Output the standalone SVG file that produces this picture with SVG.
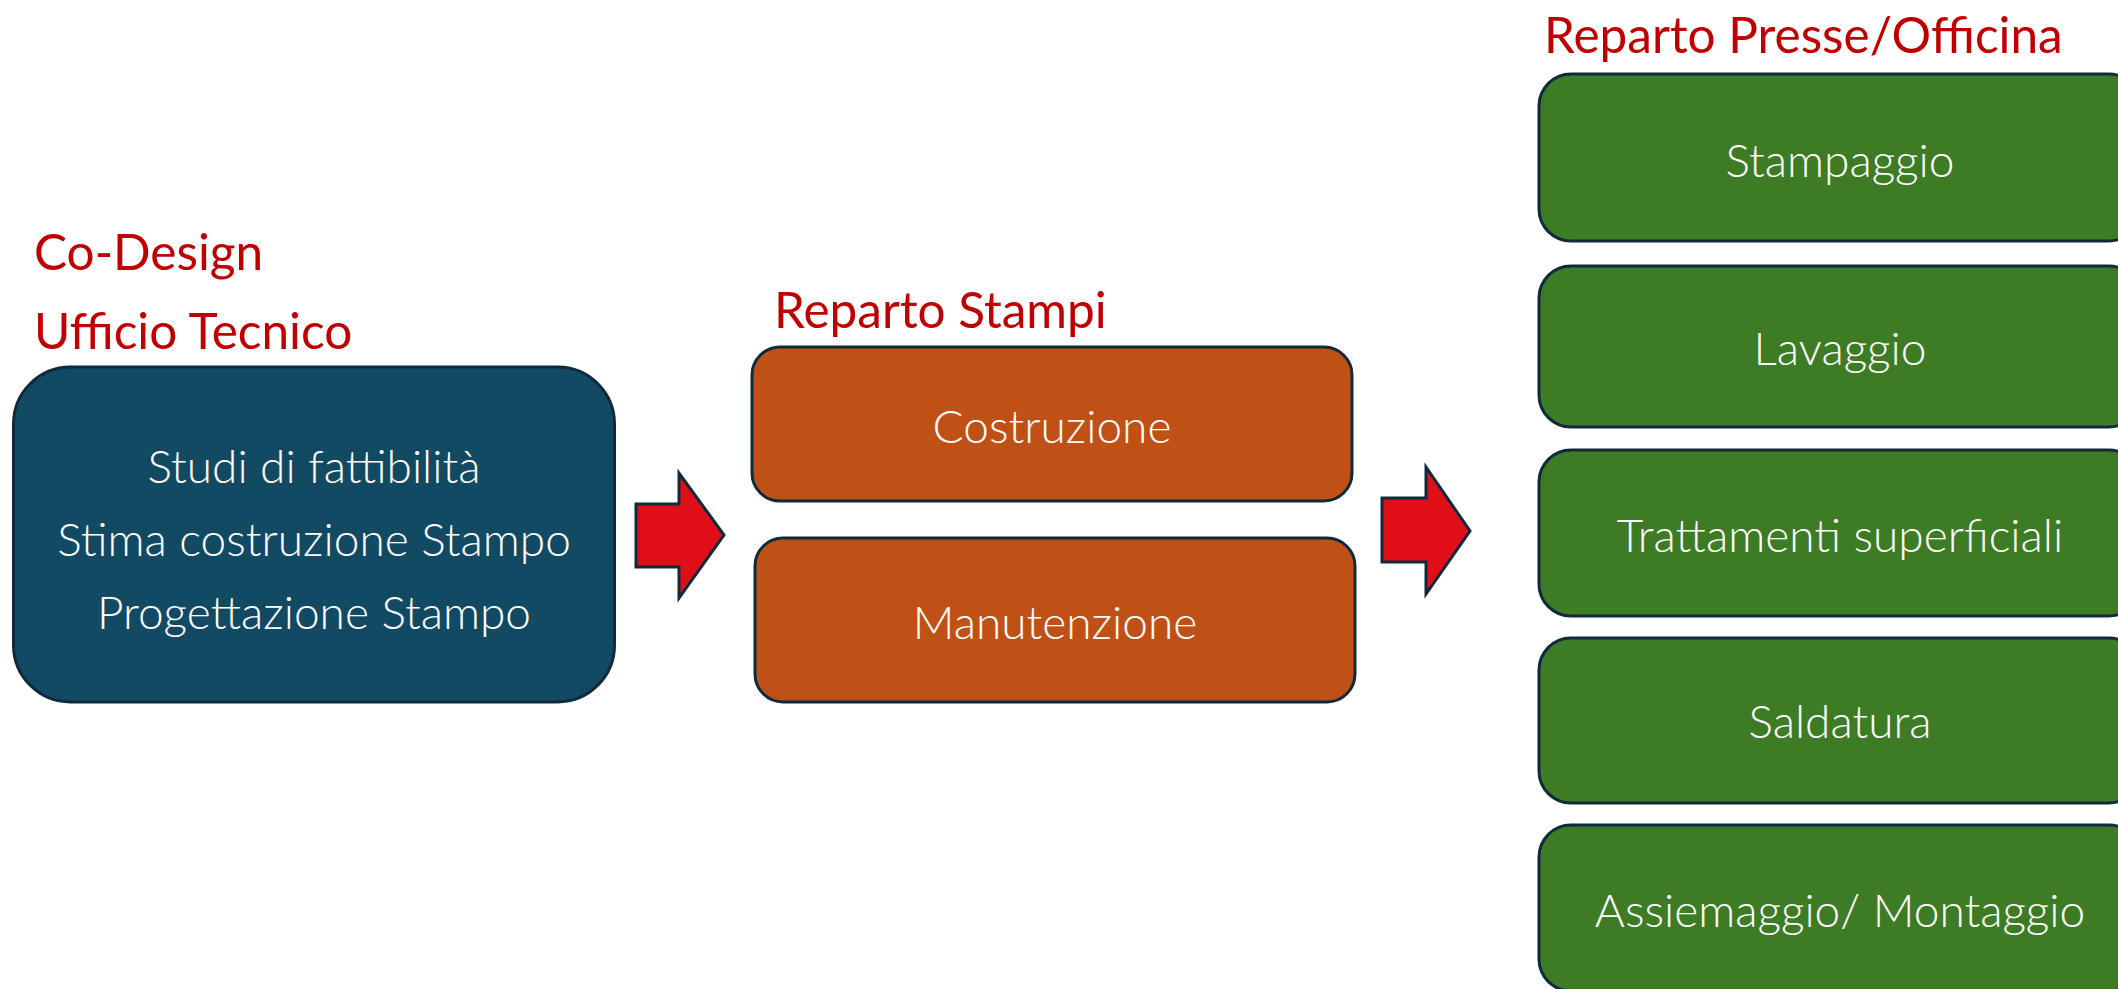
<svg xmlns="http://www.w3.org/2000/svg" width="2118" height="989" viewBox="0 0 2118 989">
<style>
.box{stroke:#0e2a3c;stroke-width:3}
.blue{fill:#134a63}
.orange{fill:#c05116}
.green{fill:#3d7c25}
.arrow{fill:#e00f17;stroke:#0e2a3c;stroke-width:3;stroke-linejoin:miter}
.t{font-family:"Segoe UI",Lato,"Open Sans",sans-serif;font-weight:300;fill:#ffffff;font-size:46px;text-anchor:middle}
.h{font-family:"Segoe UI",Lato,"Open Sans",sans-serif;font-weight:400;fill:#c00000;font-size:49.5px}
</style>
<rect width="2118" height="989" fill="#ffffff"/>
<g id="label-codesign">
<text class="h" x="34" y="270">Co-Design</text>
<text class="h" x="34" y="349">Ufficio Tecnico</text>
</g>
<g id="node-ufficio">
<rect class="box blue" x="13.5" y="367" width="601" height="335" rx="57"/>
<text class="t" x="314" y="483">Studi di fattibilità</text>
<text class="t" x="314" y="556">Stima costruzione Stampo</text>
<text class="t" x="314" y="629">Progettazione Stampo</text>
</g>
<g id="label-stampi">
<text class="h" x="774" y="328">Reparto Stampi</text>
</g>
<g id="node-costruzione">
<rect class="box orange" x="752" y="347" width="600" height="154" rx="28"/>
<text class="t" x="1052" y="443">Costruzione</text>
</g>
<g id="node-manutenzione">
<rect class="box orange" x="755" y="538" width="600" height="164" rx="28"/>
<text class="t" x="1055" y="639">Manutenzione</text>
</g>
<g id="label-presse">
<text class="h" x="1544" y="53">Reparto Presse/Officina</text>
</g>
<g id="node-stampaggio">
<rect class="box green" x="1539" y="74" width="602" height="167" rx="32"/>
<text class="t" x="1840" y="177">Stampaggio</text>
</g>
<g id="node-lavaggio">
<rect class="box green" x="1539" y="266" width="602" height="161" rx="32"/>
<text class="t" x="1840" y="365">Lavaggio</text>
</g>
<g id="node-trattamenti">
<rect class="box green" x="1539" y="450" width="602" height="166" rx="32"/>
<text class="t" x="1840" y="552">Trattamenti superficiali</text>
</g>
<g id="node-saldatura">
<rect class="box green" x="1539" y="638" width="602" height="165" rx="32"/>
<text class="t" x="1840" y="738">Saldatura</text>
</g>
<g id="node-assiemaggio">
<rect class="box green" x="1539" y="825" width="602" height="166" rx="32"/>
<text class="t" x="1840" y="927">Assiemaggio/ Montaggio</text>
</g>
<g id="connectors">
<polygon class="arrow" points="636,504 679,504 679,473 724,535 679,598 679,567 636,567"/>
<polygon class="arrow" points="1382,498 1426,498 1426,467 1470,531 1426,594 1426,562 1382,562"/>
</g>
</svg>
